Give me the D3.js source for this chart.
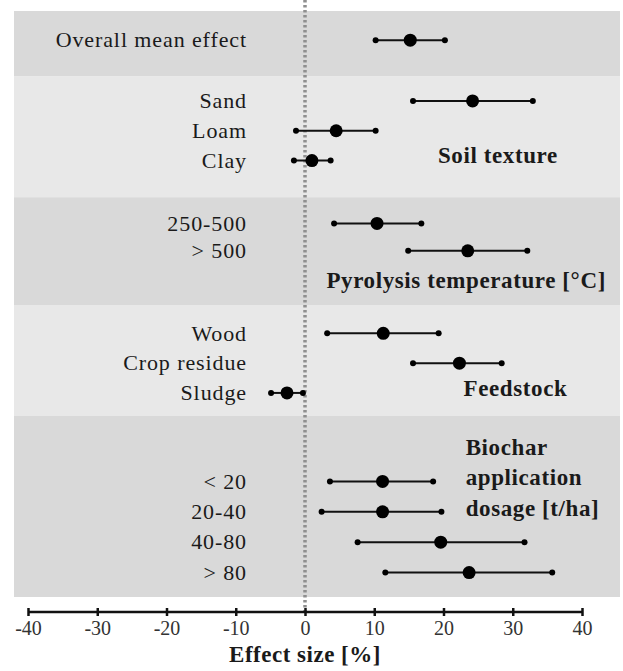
<!DOCTYPE html>
<html lang="en">
<head>
	<meta charset="utf-8">
	<title>Biochar effect sizes</title>
	<script src="https://d3js.org/d3.v7.min.js"></script>
	<style type="text/css">
		body {
			margin: 0;
			background: #fff;
		}

		text {
			font-family: "Liberation Serif", "Times New Roman", serif;
			fill: #1a1a1a;
		}

		.cat-label {
			font-size: 22px;
			letter-spacing: 0.9px;
		}

		.group-title {
			font-size: 23px;
			font-weight: bold;
			letter-spacing: 0.6px;
		}

		.tick text {
			font-size: 20px;
			fill: #333;
		}

		.axis-title {
			font-size: 23px;
			font-weight: bold;
			letter-spacing: 0.5px;
		}
	</style>
</head>
<body>
	<div id="vis"></div>
	<script type="text/javascript">

		/* Data */
		/* ==== */

		const categories = ["Overall mean effect", "Sand", "Loam", "Clay", "250-500", "> 500",
			"Wood", "Crop residue", "Sludge", "< 20", "20-40", "40-80", "> 80"];
		const meanEffect = [15.2, 24.2, 4.5, 1.0, 10.4, 23.5, 11.3, 22.3, -2.6, 11.2, 11.2, 19.6, 23.7];
		const ciLow = [10.2, 15.6, -1.3, -1.6, 4.2, 14.9, 3.2, 15.6, -4.9, 3.6, 2.4, 7.6, 11.6];
		const ciHigh = [20.2, 32.9, 10.2, 3.7, 16.8, 32.1, 19.3, 28.4, -0.3, 18.5, 19.7, 31.7, 35.7];
		const groupOf = [0, 1, 1, 1, 2, 2, 3, 3, 3, 4, 4, 4, 4];
		const groupTitles = [[], ["Soil texture"], ["Pyrolysis temperature [°C]"], ["Feedstock"],
			["Biochar", "application", "dosage [t/ha]"]];
		const xTicks = [-40, -30, -20, -10, 0, 10, 20, 30, 40];


		/* Layout */
		/* ====== */

		const width = 623, height = 671;
		const plotLeft = 14, plotRight = 620, plotTop = 11, plotBottom = 597;
		const axisY = 612;

		// band sizes and row placement, in row units
		const bandRows = [2.2, 4.05, 3.62, 3.72, 6.08];
		const firstRow = [0.98, 0.82, 0.88, 0.95, 2.2];
		const rowStep = [1, 1, 0.92, 1, 1.02];
		// group title placement: [x in data units, first line row offset]
		const titleAt = [null, [19.2, 2.65], [3.1, 2.78], [22.9, 2.8], [23.2, 1.05]];

		const totalRows = d3.sum(bandRows);
		const yScale = d3.scaleLinear()
			.domain([0, totalRows])
			.range([plotTop, plotBottom]);

		const xScale = d3.scaleLinear()
			.domain([-40, 40])
			.range([28, 582]);

		const bandStart = bandRows.map((d, i) => d3.sum(bandRows.slice(0, i)));

		const rows = categories.map((c, i) => {
			const g = groupOf[i];
			const k = groupOf.slice(0, i).filter(v => v === g).length;
			return {
				label: c,
				mean: meanEffect[i],
				low: ciLow[i],
				high: ciHigh[i],
				y: yScale(bandStart[g] + firstRow[g] + k * rowStep[g])
			};
		});


		/* SVG */
		/* === */

		const svg = d3.select('#vis')
			.append('svg')
			.attr('width', width)
			.attr('height', height);

		// Background bands
		svg.selectAll('.band')
			.data(bandRows).enter()
			.append('rect')
			.attr('class', 'band')
			.attr('x', plotLeft)
			.attr('y', (d, i) => yScale(bandStart[i]))
			.attr('width', plotRight - plotLeft)
			.attr('height', (d, i) => yScale(bandStart[i] + d) - yScale(bandStart[i]))
			.style('fill', (d, i) => i % 2 === 0 ? '#d9d9d9' : '#e8e8e8');

		// Zero line
		svg.append('line')
			.attr('x1', xScale(0)).attr('x2', xScale(0))
			.attr('y1', 0).attr('y2', axisY)
			.style('stroke', '#8f8f8f')
			.style('stroke-width', 3.5)
			.style('stroke-dasharray', '2.5,2.5');

		// Category labels
		svg.selectAll('.cat-label')
			.data(rows).enter()
			.append('text')
			.attr('class', 'cat-label')
			.attr('x', 247)
			.attr('y', d => d.y)
			.attr('dy', '0.33em')
			.attr('text-anchor', 'end')
			.text(d => d.label);

		// Group titles
		groupTitles.forEach((lines, g) => {
			if (!lines.length) return;
			svg.append('g').selectAll('text')
				.data(lines).enter()
				.append('text')
				.attr('class', 'group-title')
				.attr('x', xScale(titleAt[g][0]))
				.attr('y', (d, j) => yScale(bandStart[g] + titleAt[g][1] + j * 1.02))
				.attr('dy', '0.33em')
				.text(d => d);
		});

		// Confidence intervals
		const gRows = svg.append('g').attr('class', 'rows');

		gRows.selectAll('.ci')
			.data(rows).enter()
			.append('line')
			.attr('class', 'ci')
			.attr('x1', d => xScale(d.low))
			.attr('x2', d => xScale(d.high))
			.attr('y1', d => d.y).attr('y2', d => d.y)
			.style('stroke', '#111')
			.style('stroke-width', 2);

		gRows.selectAll('.end')
			.data(rows.flatMap(d => [{ x: d.low, y: d.y }, { x: d.high, y: d.y }])).enter()
			.append('circle')
			.attr('class', 'end')
			.attr('cx', d => xScale(d.x))
			.attr('cy', d => d.y)
			.attr('r', 3)
			.style('fill', '#000');

		gRows.selectAll('.mean')
			.data(rows).enter()
			.append('circle')
			.attr('class', 'mean')
			.attr('cx', d => xScale(d.mean))
			.attr('cy', d => d.y)
			.attr('r', 6.5)
			.style('fill', '#000');

		// Axis
		const xAxis = d3.axisBottom(xScale)
			.tickValues(xTicks)
			.tickSize(6)
			.tickPadding(3)
			.tickFormat(d => String(d));

		const axisG = svg.append('g')
			.attr('class', 'x axis')
			.attr('transform', 'translate(0,' + axisY + ')')
			.call(xAxis);

		axisG.select('.domain')
			.attr('d', 'M' + xScale(-40) + ',0H' + xScale(40))
			.style('stroke', '#111')
			.style('stroke-width', 2.5);
		axisG.selectAll('.tick line')
			.attr('y1', -4).attr('y2', 4)
			.style('stroke', '#111')
			.style('stroke-width', 2.5);
		axisG.selectAll('.tick text').attr('y', 9);

		svg.append('text')
			.attr('class', 'axis-title')
			.attr('x', xScale(0))
			.attr('y', 662)
			.attr('text-anchor', 'middle')
			.text('Effect size [%]');

	</script>
</body>
</html>
